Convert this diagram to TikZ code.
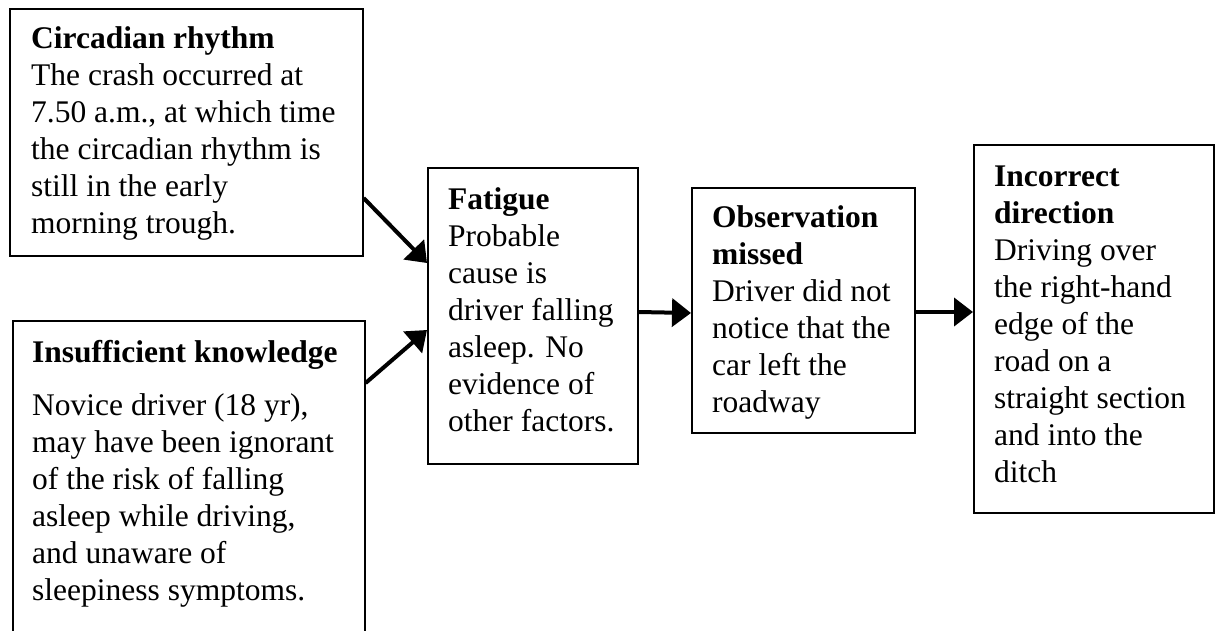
\documentclass[tikz,border=0pt]{standalone}
\usepackage{fontspec}
\setmainfont{Liberation Serif}
\usetikzlibrary{arrows.meta}

\tikzset{
  box/.style={draw=black, line width=1.6pt, rectangle, inner sep=0pt,
    anchor=north west},
  boxtext/.style={inner sep=0pt, anchor=base west,
    font=\fontsize{31.5}{37}\selectfont},
  flow/.style={line width=4pt, -{Triangle[length=19pt,width=28pt]}}
}
\newcommand{\boxlines}[1]{\parbox[t]{330pt}{\raggedright #1}}

\begin{document}
\begin{tikzpicture}[x=1pt, y=-1pt]
\useasboundingbox (0,0) rectangle (1216,630);
\clip (0,0) rectangle (1216,630);

% frames
\node[box, minimum width=353pt, minimum height=247pt] (circ) at (9,8) {};
\node[box, minimum width=352pt, minimum height=340pt] (know) at (12,320) {};
\node[box, minimum width=210pt, minimum height=296pt] (fat) at (427,167) {};
\node[box, minimum width=223pt, minimum height=245pt] (obs) at (691,187) {};
\node[box, minimum width=240pt, minimum height=368pt] (inc) at (973,144) {};

% texts
\node[boxtext] (tcirc) at (31,48) {\boxlines{%
  {\bfseries Circadian rhythm}\\
  The crash occurred at\\
  7.50 a.m., at which time\\
  the circadian rhythm is\\
  still in the early\\
  morning trough.}};

\node[boxtext] (tknow) at (32,362) {\boxlines{%
  {\bfseries Insufficient knowledge}\\[16pt]
  Novice driver (18 yr),\\
  may have been ignorant\\
  of the risk of falling\\
  asleep while driving,\\
  and unaware of\\
  sleepiness symptoms.}};

\node[boxtext] (tfat) at (448,209) {\boxlines{%
  {\bfseries Fatigue}\\
  Probable\\
  cause is\\
  driver falling\\
  asleep. No\\
  evidence of\\
  other factors.}};

\node[boxtext] (tobs) at (712,227) {\boxlines{%
  {\bfseries Observation}\\
  {\bfseries missed}\\
  Driver did not\\
  notice that the\\
  car left the\\
  roadway}};

\node[boxtext] (tinc) at (994,186) {\boxlines{%
  {\bfseries Incorrect}\\
  {\bfseries direction}\\
  Driving over\\
  the right-hand\\
  edge of the\\
  road on a\\
  straight section\\
  and into the\\
  ditch}};

% connectors
\draw[flow] ([yshift=-190pt]circ.north east) -- ([yshift=-96pt]fat.north west);
\draw[flow] ([yshift=-63pt]know.north east) -- ([yshift=-163pt]fat.north west);
\draw[flow] ([yshift=-145pt]fat.north east) -- ([yshift=-126pt]obs.north west);
\draw[flow] ([yshift=-125pt]obs.north east) -- ([yshift=-168pt]inc.north west);
\end{tikzpicture}
\end{document}
